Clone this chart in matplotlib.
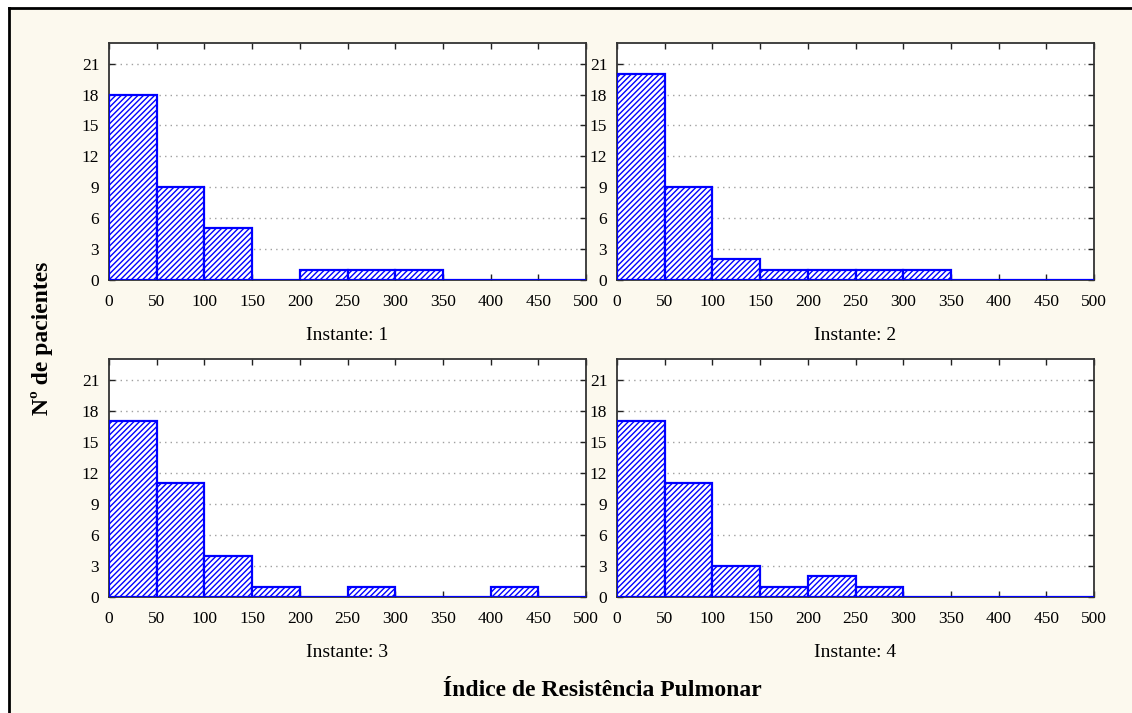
import matplotlib
matplotlib.use("Agg")
import matplotlib.pyplot as plt
from matplotlib.patches import Rectangle
from matplotlib.lines import Line2D

bin_edges = [0, 50, 100, 150, 200, 250, 300, 350, 400, 450, 500]
counts_1 = [18, 9, 5, 0, 1, 1, 1, 0, 0, 0]
counts_2 = [20, 9, 2, 1, 1, 1, 1, 0, 0, 0]
counts_3 = [17, 11, 4, 1, 0, 1, 0, 0, 1, 0]
counts_4 = [17, 11, 3, 1, 2, 1, 0, 0, 0, 0]
panel_titles = ["Instante: 1", "Instante: 2", "Instante: 3", "Instante: 4"]
x_ticks = [0, 50, 100, 150, 200, 250, 300, 350, 400, 450, 500]
y_ticks = [0, 3, 6, 9, 12, 15, 18, 21]
y_label = "Nº de pacientes"
x_label = "Índice de Resistência Pulmonar"

W, H = 1132, 713
bg = "#fcf9ee"
plt.rcParams['font.family'] = ['Liberation Serif', 'DejaVu Serif']
plt.rcParams['hatch.linewidth'] = 1.0

fig = plt.figure(figsize=(W / 100, H / 100), dpi=100)
fig.patch.set_facecolor("white")

# cream panel with black border on top/left
fig.patches.append(Rectangle((9 / W, 0), 1, 1 - 8 / H, transform=fig.transFigure,
                             facecolor=bg, edgecolor="none", zorder=-10))
fig.lines.append(Line2D([8.5 / W, 8.5 / W], [0, 1 - 7.5 / H], transform=fig.transFigure,
                        color="black", lw=2))
fig.lines.append(Line2D([8.5 / W, 1], [1 - 7.5 / H, 1 - 7.5 / H], transform=fig.transFigure,
                        color="black", lw=2))

def px_axes(x0, x1, ytop, ybot):
    return [x0 / W, 1 - ybot / H, (x1 - x0) / W, (ybot - ytop) / H]

rects = [px_axes(109, 586, 43, 280), px_axes(617, 1094, 43, 280),
         px_axes(109, 586, 359, 597), px_axes(617, 1094, 359, 597)]
all_counts = [counts_1, counts_2, counts_3, counts_4]

lefts = bin_edges[:-1]
widths = [bin_edges[i + 1] - bin_edges[i] for i in range(len(lefts))]

for rect, counts, title in zip(rects, all_counts, panel_titles):
    ax = fig.add_axes(rect)
    ax.set_facecolor("white")
    ax.bar(lefts, counts, width=widths, align="edge", facecolor="white",
           edgecolor="#0000ff", hatch="//////", linewidth=1.6, zorder=3)
    ax.set_xlim(0, 500)
    ax.set_ylim(0, 23)
    ax.set_xticks(x_ticks)
    ax.set_yticks(y_ticks)
    ax.yaxis.grid(True, linestyle=(0, (1, 3)), color="#a0a0a0", linewidth=1, zorder=0)
    ax.tick_params(direction="in", length=4, width=1, top=True, right=True,
                   labelsize=12.5, pad=10, colors="#222222", labelcolor="black")
    ax.tick_params(axis="y", pad=7)
    for s in ax.spines.values():
        s.set_color("#333333")
        s.set_linewidth(1.3)
    ax.set_xlabel(title, fontsize=14, labelpad=12)

fig.text(42 / W, 1 - 338 / H, y_label, rotation=90, ha="center", va="center",
         fontsize=17, fontweight="bold")
fig.text(602 / W, 1 - 690 / H, x_label, ha="center", va="center",
         fontsize=17, fontweight="bold")

fig.savefig("out.png", dpi=100, facecolor=fig.get_facecolor())
